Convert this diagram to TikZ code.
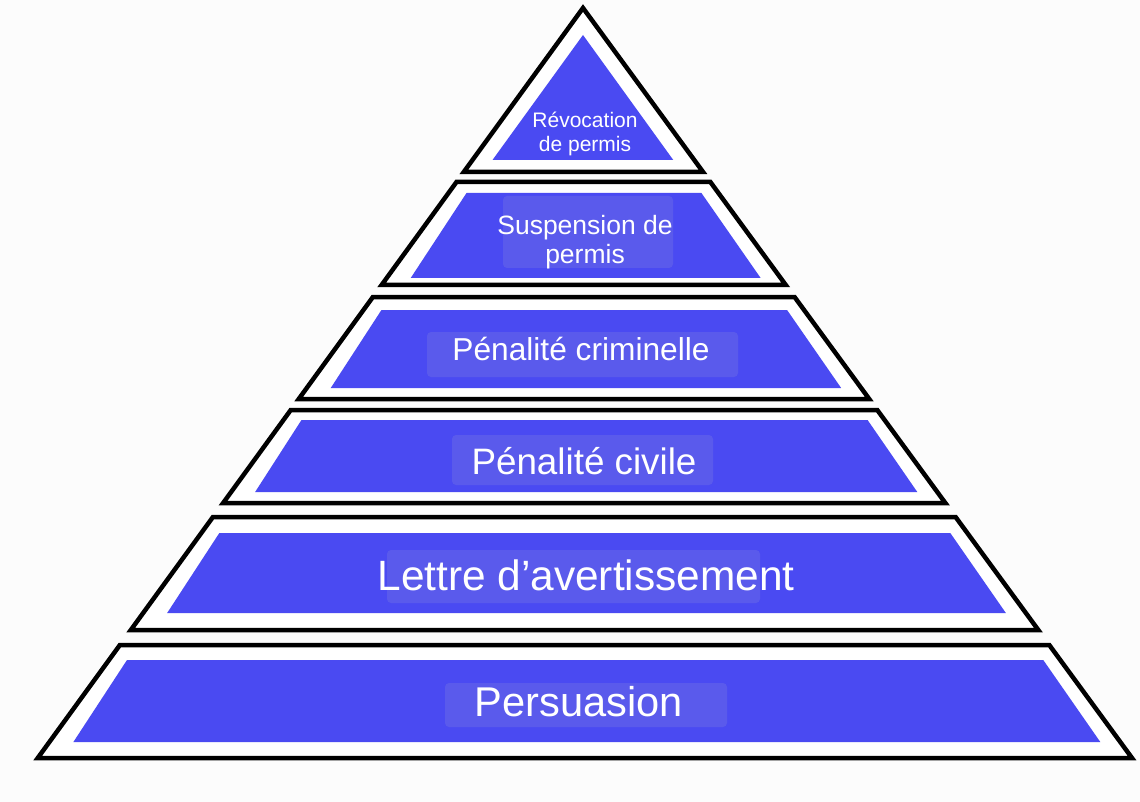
\documentclass[tikz,border=0pt]{standalone}
\usepackage{fontspec}
\setmainfont{Liberation Sans}
\definecolor{tierblue}{RGB}{74,74,242}
\definecolor{patchblue}{RGB}{90,90,236}
\definecolor{paper}{RGB}{252,252,252}
\begin{document}
\begin{tikzpicture}[x=1pt,y=-1pt,
  frame/.style={draw=black,line width=4.5pt,line join=miter,fill=white},
  band/.style={fill=tierblue},
  patch/.style={fill=patchblue,rounded corners=4pt},
  lbl/.style={text=white,anchor=base,inner sep=0pt}]
% canvas
\fill[paper] (0,0) rectangle (1140,802);
\useasboundingbox (0,0) rectangle (1140,802);
% outer edges of the pyramid: x = 583 -/+ slope*(y-8)
\def\lx#1{583-0.727*(#1-8)}
\def\rx#1{583+0.732*(#1-8)}
% top triangle
\draw[frame] (583,8) -- ({\lx{172}},172) -- ({\rx{172}},172) -- cycle;
\fill[band] (583,35) -- ({\lx{160}+20},160) -- ({\rx{160}-21},160) -- cycle;
% trapezoid tiers: outer top/bottom, blue top/bottom
\foreach \t/\b/\bt/\bb in {182/285/193/278, 297/399/310/388, 410/503/420/492, 517/630/533/613, 645/758/660/742}{
  \draw[frame] ({\lx{\t}},\t) -- ({\rx{\t}},\t) -- ({\rx{\b}},\b) -- ({\lx{\b}},\b) -- cycle;
  \fill[band] ({\lx{\bt}+18},\bt) -- ({\rx{\bt}-17},\bt) -- ({\rx{\bb}-20},\bb) -- ({\lx{\bb}+24},\bb) -- cycle;
}
% lighter patches behind the labels
\fill[patch] (503,196) rectangle (673,268);
\fill[patch] (427,332) rectangle (738,377);
\fill[patch] (452,435) rectangle (713,485);
\fill[patch] (387,550) rectangle (760,603);
\fill[patch] (445,683) rectangle (727,727);
% labels
\node[lbl,font=\fontsize{21}{23}\selectfont] (rev1) at (585,128) {Révocation};
\node[lbl,font=\fontsize{21}{23}\selectfont] (rev2) at (585,152) {de permis};
\node[lbl,font=\fontsize{26.5}{29}\selectfont] (sus1) at (585,235) {Suspension de};
\node[lbl,font=\fontsize{26.5}{29}\selectfont] (sus2) at (585,264) {permis};
\node[lbl,font=\fontsize{31.7}{34}\selectfont] (crim) at (581,360) {Pénalité criminelle};
\node[lbl,font=\fontsize{36.8}{40}\selectfont] (civ) at (584,474) {Pénalité civile};
\node[lbl,font=\fontsize{42.4}{46}\selectfont] (lettre) at (586,590) {Lettre d’avertissement};
\node[lbl,font=\fontsize{41.6}{46}\selectfont] (pers) at (579,716) {Persuasion};
\end{tikzpicture}
\end{document}
